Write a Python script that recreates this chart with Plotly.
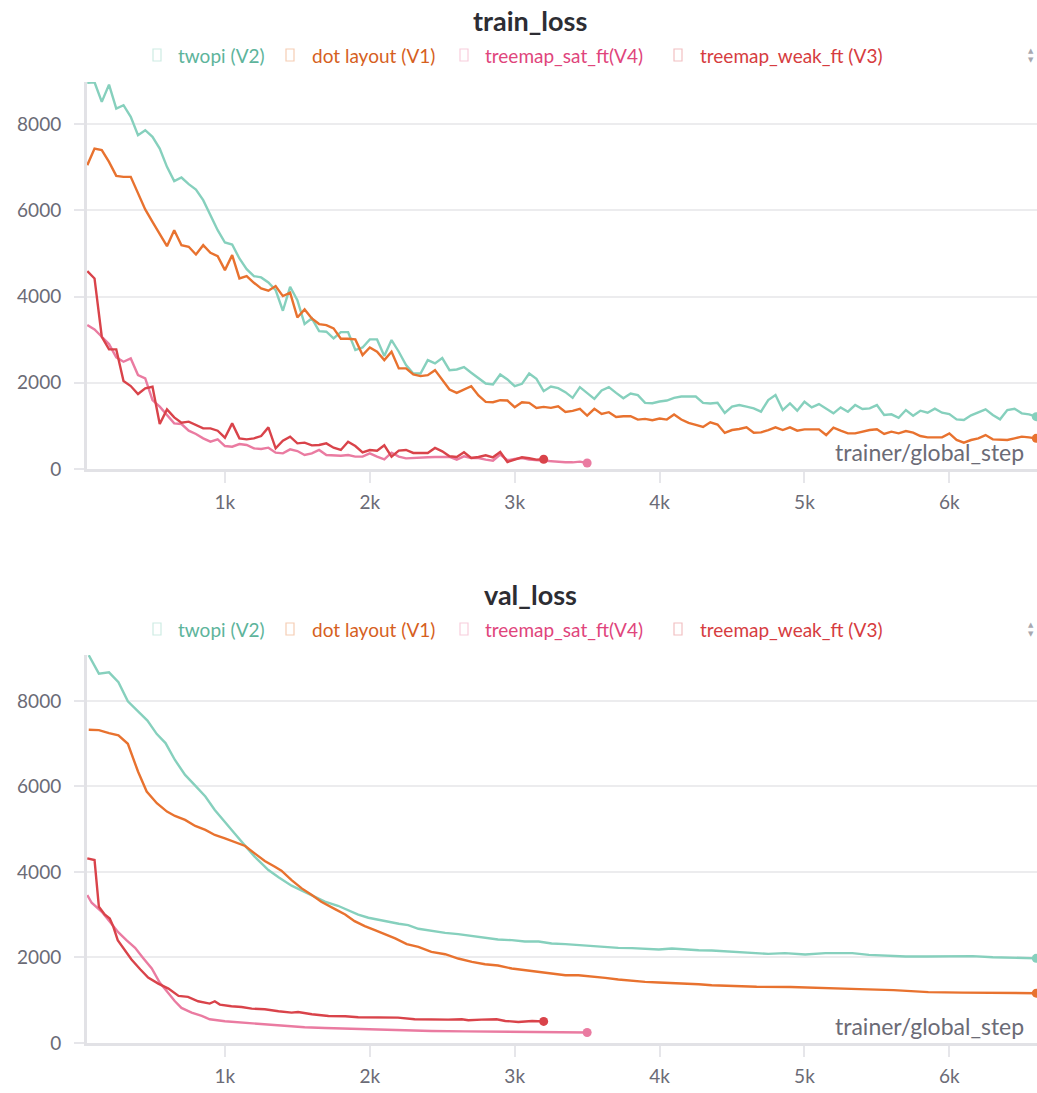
import plotly.graph_objects as go

# ---------------- data ----------------
train_steps_long = list(range(50, 6650, 50))
train_steps_weak = list(range(50, 3250, 50))
train_steps_sat = list(range(50, 3550, 50))

train_twopi = [
    8959, 8975, 8518, 8920, 8364, 8441, 8170, 7745, 7862, 7707, 7436, 7011, 6679, 6764, 6609,
    6485, 6238, 5890, 5542, 5256, 5210, 4885, 4638, 4476, 4445, 4329, 4151, 3672, 4228, 3919,
    3363, 3494, 3200, 3185, 3030, 3177, 3177, 2760, 2821, 3007, 3007, 2620, 2991, 2721, 2412,
    2217, 2217, 2527, 2449, 2573, 2294, 2310, 2364, 2232, 2100, 1984, 1961, 2193, 2077, 1922,
    1976, 2217, 2093, 1806, 1914, 1876, 1783, 1651, 1899, 1752, 1628, 1821, 1899, 1767, 1643,
    1752, 1713, 1535, 1527, 1566, 1589, 1651, 1682, 1682, 1682, 1535, 1519, 1535, 1302,
    1446, 1484, 1446, 1407, 1330, 1600, 1716, 1368, 1523, 1353, 1561, 1430, 1507, 1407, 1291,
    1430, 1330, 1484, 1391, 1407, 1484, 1252, 1268, 1190, 1368, 1237, 1353, 1306, 1399, 1306,
    1275, 1152, 1136, 1245, 1306, 1384, 1252, 1152, 1368, 1399, 1291, 1268, 1214,
]
train_dot = [
    7050, 7436, 7398, 7127, 6802, 6779, 6779, 6393, 6022, 5736, 5465, 5171, 5542, 5194, 5156,
    4978, 5194, 5017, 4940, 4615, 4963, 4422, 4476, 4321, 4190, 4136, 4244, 4012, 4089, 3517,
    3703, 3494, 3363, 3339, 3262, 3022, 3022, 3007, 2644, 2821, 2721, 2528, 2721, 2334, 2334,
    2193, 2155, 2178, 2294, 2062, 1845, 1767, 1845, 1922, 1705, 1558, 1550, 1597, 1589, 1434,
    1550, 1535, 1418, 1442, 1418, 1457, 1325, 1349, 1395, 1240, 1395, 1279, 1318, 1209, 1225,
    1225, 1147, 1163, 1132, 1170, 1147, 1263, 1147, 1070, 1023, 977, 1085, 1031, 837,
    904, 928, 966, 843, 850, 904, 966, 904, 966, 889, 920, 920, 920, 788, 958,
    889, 827, 827, 866, 904, 920, 812, 866, 827, 881, 843, 765, 734, 734, 734,
    827, 673, 611, 673, 711, 788, 688, 688, 673, 711, 750, 734, 711,
]
train_weak = [
    4592, 4422, 3069, 2775, 2775, 2041, 1925, 1739, 1871, 1909, 1044, 1384, 1198, 1074, 1098,
    1020, 943, 943, 889, 727, 1059, 711, 688, 711, 765, 966, 479, 657, 750, 595,
    611, 549, 557, 595, 495, 441, 634, 533, 387, 441, 425, 549, 286, 425, 441,
    372, 372, 372, 488, 411, 295, 279, 388, 256, 279, 318, 271, 395, 163, 217,
    271, 248, 217, 225,
]
train_sat = [
    3339, 3239, 3069, 2899, 2590, 2489, 2566, 2180, 2103, 1600, 1446, 1252, 1059, 1044, 889,
    812, 711, 634, 688, 533, 518, 580, 557, 479, 464, 495, 379, 363, 456, 417,
    325, 363, 441, 325, 309, 309, 325, 286, 286, 363, 286, 224, 379, 286, 247,
    256, 279, 271, 279, 279, 279, 217, 295, 256, 256, 217, 194, 333, 202, 233,
    256, 217, 202, 202, 178, 155, 155, 155, 171, 140,
]

val_twopi_x = [60, 130, 200, 265, 330, 400, 465, 530, 590, 655, 725, 795, 865, 930, 1000,
               1070, 1140, 1205, 1300, 1370, 1460, 1530, 1600, 1690, 1780, 1850, 1920, 1990, 2060, 2130,
               2200, 2265, 2335, 2425, 2520, 2610, 2705, 2795, 2885, 2980, 3070, 3165, 3255, 3350, 3440,
               3530, 3625, 3715, 3810, 3900, 3995, 4085, 4180, 4270, 4360, 4465, 4540, 4750, 4865, 5005,
               5145, 5330, 5445, 5560, 5700, 5840, 6020, 6160, 6300, 6440, 6600]
val_twopi = [9070, 8640, 8670, 8440, 7990, 7755, 7540, 7225, 7015, 6620, 6270, 6020, 5765, 5450, 5180,
             4890, 4610, 4360, 4045, 3875, 3680, 3560, 3445, 3305, 3210, 3110, 3005, 2930, 2875, 2835,
             2790, 2757, 2671, 2624, 2577, 2546, 2499, 2452, 2421, 2405, 2374, 2374, 2327, 2312, 2288,
             2265, 2241, 2226, 2218, 2202, 2187, 2210, 2187, 2171, 2163, 2140, 2124, 2085, 2101, 2070,
             2101, 2101, 2062, 2038, 2023, 2023, 2023, 2031, 2007, 1992, 1980]

val_dot_x = [60, 130, 200, 265, 330, 400, 460, 530, 600, 655, 725, 795, 865, 930, 1000,
             1070, 1140, 1205, 1275, 1345, 1390, 1460, 1530, 1600, 1665, 1760, 1830, 1895, 1965, 2035,
             2105, 2175, 2255, 2335, 2425, 2520, 2610, 2705, 2795, 2885, 2980, 3070, 3165, 3255, 3350,
             3440, 3530, 3625, 3715, 3810, 3900, 3995, 4085, 4180, 4270, 4360, 4465, 4670, 4905, 5145,
             5380, 5615, 5855, 6090, 6325, 6600]
val_dot = [7326, 7318, 7248, 7193, 6998, 6350, 5881, 5608, 5412, 5311, 5217, 5077, 4983, 4866, 4788,
           4694, 4608, 4436, 4256, 4124, 4030, 3811, 3616, 3460, 3304, 3132, 3007, 2851, 2734, 2640,
           2546, 2445, 2312, 2249, 2132, 2077, 1976, 1898, 1843, 1812, 1742, 1703, 1648, 1624, 1585,
           1585, 1562, 1523, 1484, 1453, 1429, 1414, 1406, 1398, 1375, 1351, 1336, 1314, 1310, 1276,
           1260, 1236, 1190, 1178, 1173, 1165]

val_weak_x = [50, 100, 130, 170, 205, 230, 260, 310, 355, 415, 470, 540, 610, 680, 745,
              815, 895, 930, 965, 1045, 1115, 1185, 1275, 1370, 1460, 1505, 1600, 1715, 1830, 1920,
              2010, 2105, 2195, 2310, 2425, 2540, 2635, 2680, 2770, 2875, 2935, 3025, 3120, 3200]
val_weak = [4319, 4280, 3186, 3007, 2913, 2718, 2405, 2171, 1953, 1726, 1531, 1390, 1273, 1101, 1078,
            976, 922, 976, 898, 859, 843, 804, 789, 742, 711, 726, 672, 633, 625, 601,
            601, 594, 594, 555, 547, 547, 555, 531, 547, 555, 516, 492, 516, 505]

val_sat_x = [50, 80, 150, 205, 265, 320, 380, 435, 495, 550, 610, 655, 700, 770, 840,
             895, 1000, 1140, 1275, 1415, 1550, 1690, 1830, 1965, 2105, 2255, 2425, 2655, 2885, 3120,
             3350, 3500]
val_sat = [3460, 3280, 3069, 2835, 2585, 2405, 2226, 1991, 1742, 1414, 1156, 976, 820, 711, 633,
           555, 508, 469, 430, 391, 367, 351, 336, 320, 312, 292, 281, 273, 266, 258,
           250, 245]

series_names = ["twopi (V2)", "dot layout (V1)", "treemap_sat_ft(V4)", "treemap_weak_ft (V3)"]
line_colors = ["#86d0bd", "#e8722f", "#ea7ba1", "#d9434a"]
text_colors = ["#5db49b", "#d65f1e", "#e0457c", "#d63c40"]
icon_colors = ["#cdece3", "#f6cdb4", "#f8cddc", "#f2c0c2"]

x_ticks = [1000, 2000, 3000, 4000, 5000, 6000]
x_tick_text = ["1k", "2k", "3k", "4k", "5k", "6k"]
y_ticks = [0, 2000, 4000, 6000, 8000]
y_tick_text = ["0", "2000", "4000", "6000", "8000"]

panel_titles = ["train_loss", "val_loss"]
x_axis_label = "trainer/global_step"

# ---------------- figure ----------------
W, H = 1037, 1093
FONT = "Lato"
fig = go.Figure()

train_data = [
    (train_steps_long, train_twopi),
    (train_steps_long, train_dot),
    (train_steps_sat, train_sat),
    (train_steps_weak, train_weak),
]
val_data = [
    (val_twopi_x, val_twopi),
    (val_dot_x, val_dot),
    (val_sat_x, val_sat),
    (val_weak_x, val_weak),
]


def add_panel(data, xa, ya):
    for i in [0, 1, 2, 3]:
        xs, ys = data[i]
        fig.add_trace(go.Scatter(x=xs, y=ys, mode="lines", name=series_names[i],
                                 line=dict(color=line_colors[i], width=2.4),
                                 xaxis=xa, yaxis=ya, showlegend=False, hoverinfo="skip"))
        fig.add_trace(go.Scatter(x=[xs[-1]], y=[ys[-1]], mode="markers",
                                 marker=dict(color=line_colors[i], size=9),
                                 xaxis=xa, yaxis=ya, showlegend=False, hoverinfo="skip"))


add_panel(train_data, "x", "y")
add_panel(val_data, "x2", "y2")

x_range = [48, 6605]
train_dom = [1 - 469 / H, 1 - 82 / H]
val_dom = [1 - 1043 / H, 1 - 655 / H]
xdom = [87 / W, 1.0]

axis_font = dict(family=FONT, size=19, color="#6b6b76")
line_col = "#e2e2e6"


def xaxis_cfg(anchor):
    return dict(domain=xdom, range=x_range, anchor=anchor, showgrid=False, zeroline=False,
                showline=True, linecolor=line_col, linewidth=3,
                ticks="outside", ticklen=11, tickwidth=2, tickcolor="#e6e6ea",
                tickvals=x_ticks, ticktext=x_tick_text, tickfont=axis_font,
                ticklabelstandoff=3, automargin=False, fixedrange=True)


def yaxis_cfg(anchor, dom, top):
    return dict(domain=dom, range=[0, top], anchor=anchor, showgrid=True, gridcolor="#ececee",
                gridwidth=1.5, zeroline=False, showline=True, linecolor=line_col, linewidth=3,
                ticks="outside", ticklen=10, tickwidth=2, tickcolor="#e6e6ea",
                tickvals=y_ticks, ticktext=y_tick_text, tickfont=axis_font,
                ticklabelstandoff=9, automargin=False, fixedrange=True)


def inner_ticks(anchor, over):
    return dict(domain=xdom, range=x_range, anchor=anchor, overlaying=over, showgrid=False,
                zeroline=False, showline=False, ticks="inside", ticklen=10, tickwidth=2,
                tickcolor="#e6e6ea", tickvals=x_ticks, showticklabels=False,
                automargin=False, fixedrange=True)


fig.update_layout(
    width=W, height=H,
    margin=dict(l=0, r=0, t=0, b=0),
    paper_bgcolor="white", plot_bgcolor="white",
    template="none",
    showlegend=False,
    xaxis=xaxis_cfg("y"),
    yaxis=yaxis_cfg("x", train_dom, 8980),
    xaxis2=xaxis_cfg("y2"),
    yaxis2=yaxis_cfg("x2", val_dom, 9075),
    xaxis3=inner_ticks("y", "x"),
    xaxis4=inner_ticks("y2", "x2"),
)

annotations = []
shapes = []
title_y = [20, 594]
legend_y = [55, 629]
label_y = [452, 1026]
icon_x = [153, 286, 460, 674]
text_x = [176, 310, 483, 698]
for p in range(2):
    annotations.append(dict(text="<b>" + panel_titles[p] + "</b>", x=530 / W, y=1 - title_y[p] / H,
                            xref="paper", yref="paper", xanchor="center", yanchor="middle",
                            showarrow=False, font=dict(family=FONT, size=27, color="#2d2d33")))
    for i in range(4):
        annotations.append(dict(text=series_names[i], x=text_x[i] / W, y=1 - legend_y[p] / H,
                                xref="paper", yref="paper", xanchor="left", yanchor="middle",
                                showarrow=False, font=dict(family=FONT, size=19, color=text_colors[i])))
        shapes.append(dict(type="rect", xref="paper", yref="paper",
                           x0=icon_x[i] / W, x1=(icon_x[i] + 8) / W,
                           y0=1 - (legend_y[p] + 6) / H, y1=1 - (legend_y[p] - 6) / H,
                           line=dict(color=icon_colors[i], width=1.2), fillcolor="rgba(0,0,0,0)"))
    annotations.append(dict(text="▲<br>▼", x=1031 / W, y=1 - legend_y[p] / H,
                            xref="paper", yref="paper", xanchor="center", yanchor="middle",
                            showarrow=False, font=dict(family="DejaVu Sans", size=7, color="#a8a8b0")))
    annotations.append(dict(text=x_axis_label, x=1026 / W, y=1 - label_y[p] / H,
                            xref="paper", yref="paper", xanchor="right", yanchor="middle",
                            showarrow=False, font=dict(family=FONT, size=23, color="#6b6b76")))

fig.update_layout(annotations=annotations, shapes=shapes)

fig.write_html("out.html", config={"displayModeBar": False},
               post_script="document.body.style.margin='0px';")
